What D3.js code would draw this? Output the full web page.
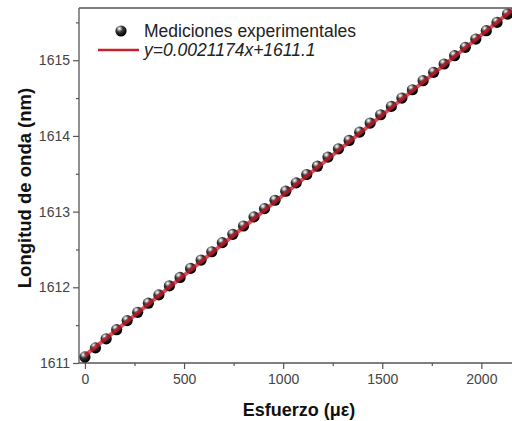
<!DOCTYPE html>
<html>
<head>
<meta charset="utf-8">
<script src="https://cdn.jsdelivr.net/npm/d3@7"></script>
<style>
  html, body { margin: 0; padding: 0; background: #fff; }
  svg { display: block; }
  text { font-family: "Liberation Sans", Arial, sans-serif; }
</style>
</head>
<body>
<svg id="chart" width="512" height="421"></svg>
<script>
// Measured strain (microstrain) and Bragg wavelength (nm)
const strain = [0, 53, 107, 160, 213, 266, 320, 373, 426, 480, 533, 586, 640, 693, 746,
  800, 853, 906, 959, 1013, 1066, 1119, 1173, 1226, 1279, 1333, 1386, 1439, 1492, 1546,
  1599, 1652, 1706, 1759, 1812, 1865, 1919, 1972, 2025, 2079, 2132];
const wavelength = [1611.08, 1611.20, 1611.32, 1611.44, 1611.56, 1611.67, 1611.79, 1611.90,
  1612.02, 1612.13, 1612.25, 1612.36, 1612.47, 1612.59, 1612.70, 1612.81, 1612.93, 1613.04,
  1613.15, 1613.27, 1613.38, 1613.49, 1613.60, 1613.72, 1613.83, 1613.94, 1614.05, 1614.17,
  1614.28, 1614.39, 1614.50, 1614.61, 1614.73, 1614.84, 1614.95, 1615.06, 1615.17, 1615.28,
  1615.39, 1615.50, 1615.61];

// Linear fit
const fitSlope = 0.0021174;
const fitIntercept = 1611.1;
const fitRange = [0, 2160];

const xTicks = [0, 500, 1000, 1500, 2000];
const xMinorTicks = [250, 750, 1250, 1750];
const yTicks = [1611, 1612, 1613, 1614, 1615];
const yMinorTicks = [1611.5, 1612.5, 1613.5, 1614.5, 1615.5];

const legendLabels = ["Mediciones experimentales", "y=0.0021174x+1611.1"];
const xTitle = "Esfuerzo (\u03bc\u03b5)";
const yTitle = "Longitud de onda (nm)";

const svg = d3.select("#chart");
const plotLeft = 79, plotTop = 8, plotBottom = 363, plotRight = 521;

const x = d3.scaleLinear().domain([-30, 2200]).range([plotLeft, plotRight]);
const y = d3.scaleLinear().domain([1611, 1615.69]).range([plotBottom, plotTop]);

const axisColor = "#555";

// sphere marker gradient
const defs = svg.append("defs");
const grad = defs.append("radialGradient").attr("id", "ball")
  .attr("cx", "38%").attr("cy", "32%").attr("r", "65%")
  .attr("fx", "35%").attr("fy", "28%");
grad.append("stop").attr("offset", "0%").attr("stop-color", "#ffffff");
grad.append("stop").attr("offset", "18%").attr("stop-color", "#bbbbbb");
grad.append("stop").attr("offset", "45%").attr("stop-color", "#3a3a3a");
grad.append("stop").attr("offset", "100%").attr("stop-color", "#000000");

// frame: top border
svg.append("line").attr("x1", plotLeft).attr("x2", 512).attr("y1", plotTop).attr("y2", plotTop)
  .attr("stroke", axisColor).attr("stroke-width", 1.3);

// x axis
const xAxis = svg.append("g").attr("transform", `translate(0,${plotBottom})`)
  .call(d3.axisBottom(x).tickValues(xTicks).tickFormat(d3.format("d")).tickSize(6).tickPadding(5));
svg.append("g").attr("transform", `translate(0,${plotBottom})`)
  .call(d3.axisBottom(x).tickValues(xMinorTicks).tickFormat("").tickSize(3))
  .call(g => g.select(".domain").remove());

// y axis
const yAxis = svg.append("g").attr("transform", `translate(${plotLeft},0)`)
  .call(d3.axisLeft(y).tickValues(yTicks).tickFormat(d3.format("d")).tickSize(6).tickPadding(3));
svg.append("g").attr("transform", `translate(${plotLeft},0)`)
  .call(d3.axisLeft(y).tickValues(yMinorTicks).tickFormat("").tickSize(3))
  .call(g => g.select(".domain").remove());

svg.selectAll(".domain").attr("stroke", axisColor).attr("stroke-width", 1.3);
svg.selectAll(".tick line").attr("stroke", axisColor).attr("stroke-width", 1.2);
svg.selectAll(".tick text").attr("fill", "#444").attr("font-size", 14)
  .attr("font-family", "Liberation Sans, Arial, sans-serif");
// plain axis lines without end caps
yAxis.select(".domain").attr("d", `M0,${plotTop}V${plotBottom}`);
xAxis.select(".domain").attr("d", `M${plotLeft},0H512`);

// data points
const pts = strain.map((s, i) => ({ s, w: wavelength[i] }));
svg.append("g").selectAll("circle").data(pts).join("circle")
  .attr("cx", d => x(d.s)).attr("cy", d => y(d.w)).attr("r", 5.6)
  .attr("fill", "url(#ball)");

// fitted line, drawn over the markers
svg.append("line")
  .attr("x1", x(fitRange[0])).attr("y1", y(fitIntercept + fitSlope * fitRange[0]))
  .attr("x2", x(fitRange[1])).attr("y2", y(fitIntercept + fitSlope * fitRange[1]))
  .attr("stroke", "#c8182a").attr("stroke-width", 4).attr("stroke-opacity", 0.75);

// legend
svg.append("circle").attr("cx", 121).attr("cy", 31).attr("r", 5.6).attr("fill", "url(#ball)");
svg.append("text").attr("x", 144).attr("y", 37).attr("font-size", 17.5).attr("fill", "#222")
  .text(legendLabels[0]);
svg.append("line").attr("x1", 98).attr("x2", 139).attr("y1", 50).attr("y2", 50)
  .attr("stroke", "#c8202e").attr("stroke-width", 2.6);
svg.append("text").attr("x", 144).attr("y", 56).attr("font-size", 17.5).attr("fill", "#222")
  .attr("font-style", "italic").text(legendLabels[1]);

// axis titles
svg.append("text").attr("x", 299).attr("y", 416).attr("text-anchor", "middle")
  .attr("font-size", 18).attr("font-weight", "bold").attr("fill", "#111").text(xTitle);
svg.append("text").attr("transform", `translate(31,188) rotate(-90)`)
  .attr("text-anchor", "middle").attr("font-size", 18.5).attr("font-weight", "bold")
  .attr("fill", "#111").text(yTitle);
</script>
</body>
</html>
